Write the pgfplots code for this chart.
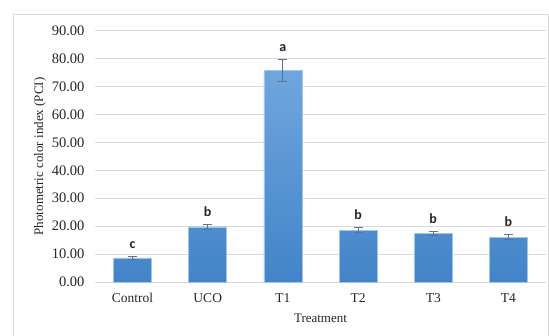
\documentclass[border=0pt]{standalone}
\usepackage{pgfplots}
\pgfplotsset{compat=1.18}
\usepackage{fontspec}
\setmainfont{Liberation Serif}
\newfontfamily\calibri{Carlito}
\definecolor{gridc}{RGB}{217,217,217}
\definecolor{bartop}{RGB}{112,166,222}
\definecolor{barbot}{RGB}{66,132,200}
\definecolor{barline}{RGB}{160,196,236}
\definecolor{errc}{RGB}{95,115,145}
\begin{document}
\begin{tikzpicture}
\useasboundingbox (0,0) rectangle (549pt,-336pt);
\draw[gridc, line width=0.8pt] (13pt,-336pt) -- (13pt,-14pt) -- (548pt,-14pt) -- (548pt,-336pt);
\begin{axis}[
  at={(95pt,-282pt)}, anchor=south west,
  scale only axis, width=451pt, height=251.3pt,
  xmin=-0.5, xmax=5.5, ymin=0, ymax=90,
  xtick={0,1,2,3,4,5},
  xticklabels={Control,UCO,T1,T2,T3,T4},
  ytick={0,10,20,30,40,50,60,70,80,90},
  yticklabel={\pgfmathprintnumber[fixed,fixed zerofill,precision=2]{\tick}},
  /pgf/number format/assume math mode=true,
  ymajorgrids, grid style={gridc, line width=0.8pt},
  axis x line*=bottom, axis y line*=left,
  x axis line style={gridc, line width=0.8pt},
  y axis line style={draw=none},
  major tick length=0pt,
  tick label style={font=\fontsize{13.5}{15}\selectfont, text=black!85},
  xticklabel style={yshift=-8pt},
  yticklabel style={xshift=-7pt, font=\fontsize{14.5}{16}\selectfont},
  xlabel={Treatment}, ylabel={Photometric color index (PCI)},
  label style={font=\fontsize{13}{15}\selectfont, text=black!85},
  xlabel style={yshift=-4pt},
  ylabel style={yshift=-1pt},
  clip=false,
]
\addplot[ybar, bar width=38pt, top color=bartop, bottom color=barbot, draw=barline, line width=0.6pt,
  error bars/.cd, y dir=both, y explicit,
  error bar style={errc, line width=0.9pt}, error mark options={errc, line width=0.9pt, mark size=4.5pt, rotate=90}]
coordinates {
(0,8.6) +- (0,0.4)
(1,19.7) +- (0,0.8)
(2,75.7) +- (0,3.9)
(3,18.6) +- (0,0.8)
(4,17.3) +- (0,0.8)
(5,16.1) +- (0,0.8)
};
\addplot[only marks, mark=none, point meta=explicit symbolic,
  nodes near coords, nodes near coords style={anchor=base, yshift=8pt, font=\calibri\bfseries\fontsize{14}{16}\selectfont, text=black!85}]
coordinates {
(0,9.0) [c]
(1,20.5) [b]
(2,79.6) [a]
(3,19.4) [b]
(4,18.1) [b]
(5,16.9) [b]
};
\end{axis}
\end{tikzpicture}
\end{document}
